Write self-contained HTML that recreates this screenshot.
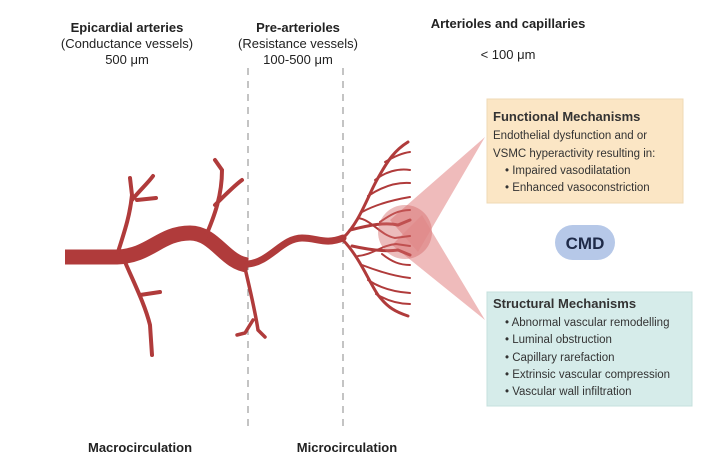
<!DOCTYPE html>
<html><head><meta charset="utf-8"><style>
body{margin:0;background:#fff;}
svg{display:block;font-family:"Liberation Sans",sans-serif;}
</style></head><body>
<svg width="705" height="461" viewBox="0 0 705 461" xmlns="http://www.w3.org/2000/svg">
<g fill="#222" text-anchor="middle" font-size="13">
<text x="127" y="32" font-weight="bold">Epicardial arteries</text>
<text x="127" y="48">(Conductance vessels)</text>
<text x="127" y="64">500 μm</text>
<text x="298" y="32" font-weight="bold">Pre-arterioles</text>
<text x="298" y="48">(Resistance vessels)</text>
<text x="298" y="64">100-500 μm</text>
<text x="508" y="28" font-weight="bold">Arterioles and capillaries</text>
<text x="508" y="59">&lt; 100 μm</text>
<text x="140" y="452" font-weight="bold">Macrocirculation</text>
<text x="347" y="452" font-weight="bold">Microcirculation</text>
</g>
<g stroke="#888" stroke-width="1" stroke-dasharray="7,6">
<line x1="248" y1="68" x2="248" y2="432"/>
<line x1="343" y1="68" x2="343" y2="432"/>
</g>
<polygon points="390,220 485,137 418,252" fill="#e9a4a4" opacity="0.75"/>
<polygon points="392,245 485,320 422,215" fill="#e9a4a4" opacity="0.75"/>
<g fill="none" stroke="#b03b3b" stroke-linecap="round">
<path d="M65,257 L117,257 C150,256 160,233 190,233 C215,233 225,263 248,265" stroke-width="15" stroke-linecap="butt"/>
<path d="M248,264 C270,262 282,238 302,238 C318,238 325,245 343,238" stroke-width="7"/>
<path d="M118,252 C125,230 130,215 132,195 L130,178 M132,200 C140,190 148,183 153,176 M137,200 L156,198" stroke-width="4"/>
<path d="M125,262 C135,285 145,305 150,325 L152,355 M140,295 L160,292" stroke-width="4"/>
<path d="M205,238 C215,215 222,195 222,170 L215,160 M215,205 C225,195 235,185 242,180" stroke-width="4"/>
<path d="M245,268 C250,290 255,310 258,330 L265,337 M253,320 L245,333 L237,335" stroke-width="3.5"/>
<g stroke-width="3">
<path d="M343,238 C360,222 368,195 378,178 C388,160 395,150 408,142"/>
<path d="M343,240 C360,258 368,280 378,295 C388,308 396,312 408,316"/>
<path d="M350,230 C370,225 385,222 398,225 L410,220"/>
<path d="M352,246 C370,250 385,252 398,250 L410,255"/>
</g>
<g stroke-width="2">
<path d="M362,212 C375,205 392,200 410,197"/>
<path d="M368,196 C380,188 395,182 410,183"/>
<path d="M375,180 C385,172 398,168 410,170"/>
<path d="M385,162 C395,156 402,153 410,152"/>
<path d="M358,218 C372,220 380,235 395,238 L410,236"/>
<path d="M380,222 C390,215 398,210 410,210"/>
<path d="M362,265 C375,270 392,276 410,278"/>
<path d="M368,280 C380,288 395,292 410,293"/>
<path d="M376,294 C386,300 398,304 410,304"/>
<path d="M358,256 C372,255 382,245 396,244 L410,246"/>
<path d="M382,254 C392,262 400,265 410,265"/>
</g>
</g>
<circle cx="405" cy="232" r="27" fill="#d46a6a" opacity="0.45"/>
<rect x="487" y="99" width="196" height="104" fill="#fbe6c5" stroke="#efd9b5"/>
<rect x="487" y="292" width="205" height="114" fill="#d6ecea" stroke="#c5e0dd"/>
<rect x="555" y="225" width="60" height="35" rx="17.5" fill="#b6c8e8"/>
<text x="585" y="249" text-anchor="middle" font-size="17" font-weight="bold" fill="#1e2a48">CMD</text>
<g fill="#333" font-size="11.5">
<text x="493" y="121" font-weight="bold" font-size="13">Functional Mechanisms</text>
<text x="493" y="139">Endothelial dysfunction and or</text>
<text x="493" y="157">VSMC hyperactivity  resulting in:</text>
<text x="505" y="174">•  Impaired vasodilatation</text>
<text x="505" y="191">•  Enhanced vasoconstriction</text>
<text x="493" y="308" font-weight="bold" font-size="13">Structural Mechanisms</text>
<text x="505" y="326">•  Abnormal vascular remodelling</text>
<text x="505" y="343">•  Luminal obstruction</text>
<text x="505" y="361">•  Capillary rarefaction</text>
<text x="505" y="378">•  Extrinsic vascular compression</text>
<text x="505" y="395">•  Vascular wall infiltration</text>
</g>
</svg>
</body></html>
